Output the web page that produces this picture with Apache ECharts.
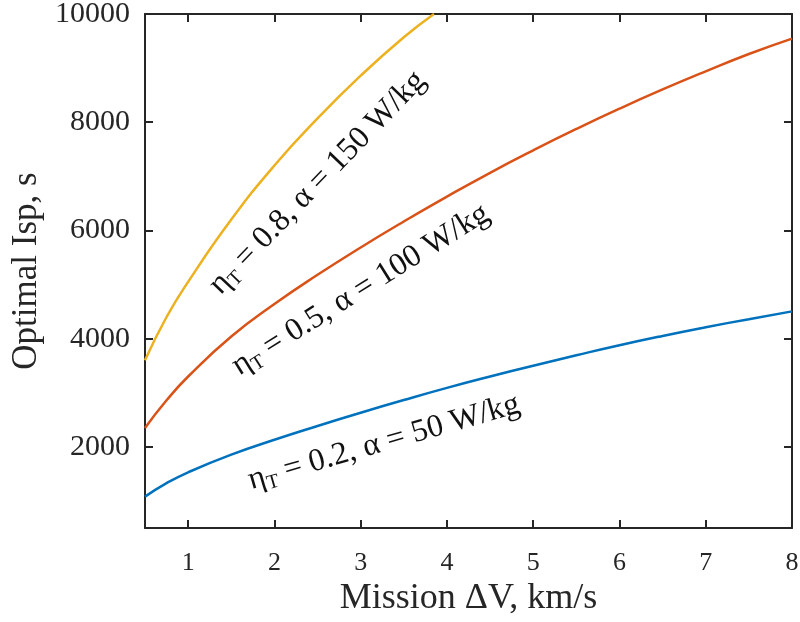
<!DOCTYPE html>
<html>
<head>
<meta charset="utf-8">
<script src="https://cdn.jsdelivr.net/npm/echarts@6/dist/echarts.min.js"></script>
<style>
html,body{margin:0;padding:0;background:#fff;}
#main{width:800px;height:622px;}
</style>
</head>
<body>
<div id="main"></div>
<script>
// Mission delta-V values (km/s)
const deltaV = [0.5, 0.75, 1, 1.5, 2, 2.5, 3, 3.5, 4, 4.5, 5, 5.5, 6, 6.5, 7, 7.5, 8];
// eta_T = 0.2, alpha = 50 W/kg
const ispLow = [1080, 1330, 1530, 1855, 2130, 2385, 2630, 2865, 3090, 3300, 3500, 3692, 3878, 4050, 4210, 4360, 4504];
// eta_T = 0.5, alpha = 100 W/kg
const ispMid = [2350, 2860, 3300, 4040, 4640, 5180, 5685, 6165, 6625, 7065, 7480, 7875, 8250, 8605, 8940, 9260, 9545];
// eta_T = 0.8, alpha = 150 W/kg (leaves the axes at the top)
const deltaVHigh = [0.5, 0.75, 1, 1.5, 2, 2.5, 3, 3.5, 3.85];
const ispHigh = [3600, 4400, 5050, 6200, 7200, 8070, 8860, 9570, 10000];

const seriesNames = ['ηT = 0.2, α = 50 W/kg', 'ηT = 0.5, α = 100 W/kg', 'ηT = 0.8, α = 150 W/kg'];
const labelTexts = [
  '{e|η}{s|T}{e| = 0.2, α = 50 W/kg}',
  '{e|η}{s|T}{e| = 0.5, α = 100 W/kg}',
  '{e|η}{s|T}{e| = 0.8, α = 150 W/kg}'
];
// label anchor in data space (centre of the label) and angle in degrees
const labelX = [3.27, 3.0, 2.5];
const labelY = [2080, 4900, 6880];
const labelAngle = [16, 32, 46];

const FONT = '"Liberation Serif", "Times New Roman", serif';
const AX = '#262626';
const colors = ['#0072BD', '#D95319', '#EDB120'];

const pairs = (xs, ys) => xs.map((x, i) => [x, ys[i]]);

const axisLine = {show: true, onZero: false, lineStyle: {color: AX, width: 2}};
const axisTick = {show: true, inside: true, length: 8, lineStyle: {color: AX, width: 2}};

const chart = echarts.init(document.getElementById('main'), null, {renderer: 'canvas'});
const option = {
  backgroundColor: '#fff',
  animation: false,
  grid: {left: 145, right: 8, top: 14, bottom: 94, containLabel: false, outerBoundsMode: 'none'},
  xAxis: [
    {
      type: 'value', min: 0.5, max: 8, minInterval: 1, maxInterval: 1,
      position: 'bottom', axisLine, axisTick,
      splitLine: {show: false},
      axisLabel: {
        formatter: v => Number.isInteger(v) ? String(v) : '',
        fontSize: 26, fontFamily: FONT, color: AX, margin: 22
      },
      name: 'Mission ΔV, km/s', nameLocation: 'middle', nameGap: 43,
      nameTextStyle: {fontSize: 36, fontFamily: FONT, color: AX}
    },
    {
      type: 'value', min: 0.5, max: 8, minInterval: 1, maxInterval: 1,
      position: 'top', axisLine, axisTick,
      splitLine: {show: false}, axisLabel: {show: false}
    }
  ],
  yAxis: [
    {
      type: 'value', min: 500, max: 10000, minInterval: 2000, maxInterval: 2000,
      position: 'left', axisLine, axisTick,
      splitLine: {show: false},
      axisLabel: {
        formatter: v => (v % 2000 === 0) ? String(v) : '',
        fontSize: 30, fontFamily: FONT, color: AX, margin: 15
      },
      name: 'Optimal Isp, s', nameLocation: 'middle', nameGap: 101,
      nameTextStyle: {fontSize: 35, fontFamily: FONT, color: AX}
    },
    {
      type: 'value', min: 500, max: 10000, minInterval: 2000, maxInterval: 2000,
      position: 'right', axisLine, axisTick,
      splitLine: {show: false}, axisLabel: {show: false}
    }
  ],
  series: [
    {name: seriesNames[0], type: 'line', data: pairs(deltaV, ispLow)},
    {name: seriesNames[1], type: 'line', data: pairs(deltaV, ispMid)},
    {name: seriesNames[2], type: 'line', data: pairs(deltaVHigh, ispHigh)}
  ].map((s, i) => Object.assign(s, {
    xAxisIndex: 0, yAxisIndex: 0, smooth: true, showSymbol: false, symbol: 'none',
    lineStyle: {color: colors[i], width: 2.5}, itemStyle: {color: colors[i]}, clip: true
  }))
};
chart.setOption(option);

const graphics = labelTexts.map((t, i) => {
  const p = chart.convertToPixel({gridIndex: 0}, [labelX[i], labelY[i]]);
  return {
    type: 'text', x: p[0], y: p[1], rotation: labelAngle[i] * Math.PI / 180, z: 10,
    style: {
      text: t, align: 'center', verticalAlign: 'middle', fill: '#111',
      fontFamily: FONT,
      rich: {
        e: {fontSize: 32, fontFamily: FONT, fill: '#111', lineHeight: 36},
        s: {fontSize: 20, fontFamily: FONT, fill: '#111', lineHeight: 18, verticalAlign: 'bottom'}
      }
    }
  };
});
chart.setOption({graphic: graphics});
</script>
</body>
</html>
